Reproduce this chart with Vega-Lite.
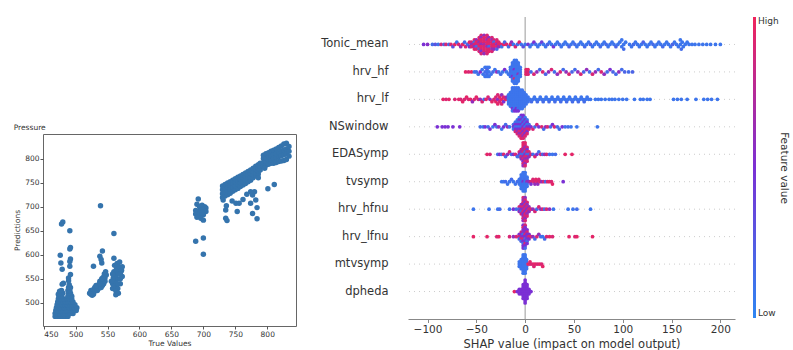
{
"$schema": "https://vega.github.io/schema/vega-lite/v6.json",
"padding": {"left": 13, "top": 16, "right": 14, "bottom": 0},
"config": {"font": "DejaVu Sans", "view": {"stroke": null}, "axis": {"grid": false}},
"datasets": {
"feat": [{"f":"Tonic_mean"},{"f":"hrv_hf"},{"f":"hrv_lf"},{"f":"NSwindow"},{"f":"EDASymp"},{"f":"tvsymp"},{"f":"hrv_hfnu"},{"f":"hrv_lfnu"},{"f":"mtvsymp"},{"f":"dpheda"}],
"scatter": [
{"t":468,"p":472},{"t":472,"p":472},{"t":476,"p":472},{"t":480,"p":472},{"t":484,"p":472},{"t":488,"p":472},
{"t":468,"p":478},{"t":472,"p":478},{"t":476,"p":478},{"t":480,"p":478},{"t":484,"p":478},{"t":488,"p":478},{"t":492,"p":478},{"t":496,"p":478},
{"t":469,"p":484},{"t":473,"p":484},{"t":477,"p":484},{"t":481,"p":484},{"t":485,"p":484},{"t":489,"p":484},{"t":493,"p":484},{"t":497,"p":484},{"t":501,"p":484},
{"t":470,"p":490},{"t":474,"p":490},{"t":478,"p":490},{"t":482,"p":490},{"t":486,"p":490},{"t":490,"p":490},{"t":494,"p":490},{"t":498,"p":490},{"t":502,"p":490},
{"t":471,"p":496},{"t":475,"p":496},{"t":479,"p":496},{"t":483,"p":496},{"t":487,"p":496},{"t":491,"p":496},{"t":495,"p":496},{"t":499,"p":496},
{"t":472,"p":502},{"t":476,"p":502},{"t":480,"p":502},{"t":484,"p":502},{"t":488,"p":502},{"t":492,"p":502},{"t":496,"p":502},
{"t":473,"p":508},{"t":477,"p":508},{"t":482,"p":508},{"t":487,"p":508},{"t":490,"p":508},{"t":494,"p":508},
{"t":474,"p":514},{"t":478,"p":514},{"t":488,"p":514},{"t":491,"p":514},{"t":494,"p":514},
{"t":476,"p":520},{"t":480,"p":520},{"t":489,"p":520},{"t":492,"p":520},
{"t":478,"p":526},{"t":488,"p":526},{"t":491,"p":526},{"t":489,"p":532},{"t":492,"p":532},{"t":490,"p":538},
{"t":480,"p":668},{"t":478,"p":664},{"t":491,"p":650},{"t":492,"p":615},{"t":491,"p":612},{"t":476,"p":599},{"t":492,"p":591},{"t":491,"p":586},{"t":477,"p":583},{"t":479,"p":570},{"t":491,"p":576},{"t":492,"p":559},{"t":481,"p":541},{"t":479,"p":539},{"t":489,"p":546},{"t":473,"p":518},{"t":475,"p":524},{"t":489,"p":552},
{"t":522,"p":520},{"t":524,"p":526},{"t":526,"p":522},{"t":528,"p":528},{"t":530,"p":524},{"t":530,"p":532},{"t":532,"p":528},{"t":534,"p":534},{"t":534,"p":526},{"t":536,"p":530},{"t":536,"p":538},{"t":538,"p":534},{"t":540,"p":540},{"t":540,"p":532},{"t":542,"p":544},{"t":542,"p":536},{"t":544,"p":548},{"t":544,"p":540},{"t":546,"p":552},{"t":546,"p":545},{"t":548,"p":558},{"t":547,"p":565},{"t":545,"p":560},{"t":543,"p":553},{"t":526,"p":516},{"t":528,"p":518},{"t":538,"p":545},{"t":541,"p":550},{"t":524,"p":518},{"t":532,"p":536},{"t":538,"p":540},
{"t":539,"p":702},{"t":542,"p":608},{"t":538,"p":597},{"t":541,"p":583},{"t":528,"p":576},{"t":540,"p":590},
{"t":558,"p":530},{"t":562,"p":535},{"t":566,"p":530},{"t":570,"p":540},{"t":558,"p":540},{"t":562,"p":545},{"t":566,"p":550},{"t":570,"p":550},{"t":573,"p":555},{"t":559,"p":552},{"t":563,"p":558},{"t":567,"p":562},{"t":571,"p":565},{"t":560,"p":565},{"t":564,"p":570},{"t":568,"p":575},{"t":572,"p":568},{"t":561,"p":578},{"t":565,"p":582},{"t":569,"p":585},{"t":573,"p":575},{"t":558,"p":560},{"t":563,"p":525},{"t":567,"p":520},{"t":556,"p":545},{"t":566,"p":540},{"t":570,"p":560},
{"t":560,"p":644},{"t":560,"p":593},{"t":563,"p":517},
{"t":692,"p":716},{"t":690,"p":705},{"t":694,"p":700},{"t":698,"p":703},{"t":702,"p":700},{"t":704,"p":697},{"t":688,"p":692},{"t":692,"p":690},{"t":696,"p":692},{"t":700,"p":694},{"t":704,"p":690},{"t":688,"p":685},{"t":694,"p":684},{"t":700,"p":683},{"t":690,"p":678},{"t":696,"p":676},{"t":700,"p":672},{"t":698,"p":688},{"t":688,"p":628},{"t":700,"p":635},{"t":700,"p":601},
{"t":730,"p":719},{"t":730,"p":727},{"t":730,"p":735},{"t":730,"p":743},
{"t":734,"p":722},{"t":734,"p":730},{"t":734,"p":738},{"t":734,"p":746},
{"t":738,"p":725},{"t":738,"p":733},{"t":738,"p":741},{"t":738,"p":749},
{"t":742,"p":728},{"t":742,"p":736},{"t":742,"p":744},{"t":742,"p":752},
{"t":746,"p":732},{"t":746,"p":740},{"t":746,"p":748},{"t":746,"p":755},
{"t":750,"p":735},{"t":750,"p":743},{"t":750,"p":751},{"t":750,"p":758},
{"t":754,"p":738},{"t":754,"p":746},{"t":754,"p":754},{"t":754,"p":761},
{"t":758,"p":742},{"t":758,"p":749},{"t":758,"p":757},{"t":758,"p":764},
{"t":762,"p":745},{"t":762,"p":752},{"t":762,"p":760},{"t":762,"p":767},
{"t":766,"p":748},{"t":766,"p":755},{"t":766,"p":763},{"t":766,"p":770},
{"t":770,"p":752},{"t":770,"p":759},{"t":770,"p":766},{"t":770,"p":773},
{"t":774,"p":755},{"t":774,"p":762},{"t":774,"p":769},{"t":774,"p":776},
{"t":778,"p":760},{"t":778,"p":766},{"t":778,"p":773},{"t":778,"p":780},
{"t":782,"p":764},{"t":782,"p":770},{"t":782,"p":777},{"t":782,"p":784},
{"t":786,"p":768},{"t":786,"p":774},{"t":786,"p":781},{"t":786,"p":787},
{"t":789,"p":776},{"t":789,"p":784},{"t":789,"p":790},
{"t":735,"p":693},{"t":735,"p":676},{"t":737,"p":671},{"t":753,"p":690},{"t":751,"p":707},{"t":756,"p":707},{"t":774,"p":707},{"t":784,"p":698},{"t":777,"p":686},{"t":784,"p":675},{"t":777,"p":724},{"t":780,"p":731},{"t":774,"p":731},{"t":782,"p":714},{"t":731,"p":714},{"t":736,"p":702},{"t":745,"p":712},{"t":762,"p":715},{"t":768,"p":726},{"t":786,"p":760},
{"t":794,"p":784},{"t":794,"p":792},{"t":794,"p":800},{"t":794,"p":807},
{"t":798,"p":786},{"t":798,"p":794},{"t":798,"p":802},{"t":798,"p":810},
{"t":802,"p":788},{"t":802,"p":796},{"t":802,"p":804},{"t":802,"p":812},
{"t":806,"p":790},{"t":806,"p":798},{"t":806,"p":806},{"t":806,"p":815},
{"t":810,"p":790},{"t":810,"p":800},{"t":810,"p":808},{"t":810,"p":817},
{"t":814,"p":792},{"t":814,"p":802},{"t":814,"p":810},{"t":814,"p":820},
{"t":818,"p":794},{"t":818,"p":804},{"t":818,"p":812},{"t":818,"p":823},
{"t":822,"p":795},{"t":822,"p":806},{"t":822,"p":815},{"t":822,"p":826},
{"t":826,"p":796},{"t":826,"p":808},{"t":826,"p":818},{"t":826,"p":830},
{"t":830,"p":798},{"t":830,"p":810},{"t":830,"p":820},{"t":830,"p":832},
{"t":834,"p":805},{"t":834,"p":815},{"t":834,"p":825},
{"t":801,"p":737},{"t":811,"p":746},{"t":796,"p":780}
],
"shap": [
{"f":"Tonic_mean","s":-104,"v":0.5,"o":0},{"f":"Tonic_mean","s":-100,"v":0.55,"o":0},{"f":"Tonic_mean","s":-95,"v":0.15,"o":0},{"f":"Tonic_mean","s":-92,"v":0.3,"o":0},{"f":"Tonic_mean","s":-89,"v":0.1,"o":0},{"f":"Tonic_mean","s":-86,"v":0.85,"o":0},{"f":"Tonic_mean","s":-83,"v":0.2,"o":0},{"f":"Tonic_mean","s":-81,"v":0.9,"o":0},{"f":"Tonic_mean","s":-78,"v":0.15,"o":0},{"f":"Tonic_mean","s":-76,"v":0.9,"o":0},{"f":"Tonic_mean","s":-74,"v":0.3,"o":1},{"f":"Tonic_mean","s":-72,"v":0.95,"o":0},{"f":"Tonic_mean","s":-70,"v":0.1,"o":-1},{"f":"Tonic_mean","s":-68,"v":0.9,"o":0},{"f":"Tonic_mean","s":-66,"v":0.6,"o":1},{"f":"Tonic_mean","s":-64,"v":0.95,"o":0},{"f":"Tonic_mean","s":-62,"v":0.15,"o":-1},{"f":"Tonic_mean","s":-61,"v":0.9,"o":1},{"f":"Tonic_mean","s":-59,"v":0.2,"o":0},{"f":"Tonic_mean","s":-57,"v":0.95,"o":-1},{"f":"Tonic_mean","s":-57,"v":0.5,"o":1},
{"f":"Tonic_mean","s":-55,"v":0.9,"o":-1},{"f":"Tonic_mean","s":-55,"v":0.6,"o":0},{"f":"Tonic_mean","s":-55,"v":0.9,"o":1},
{"f":"Tonic_mean","s":-52,"v":0.95,"o":-2},{"f":"Tonic_mean","s":-52,"v":0.1,"o":-1},{"f":"Tonic_mean","s":-52,"v":0.9,"o":0},{"f":"Tonic_mean","s":-52,"v":0.6,"o":1},{"f":"Tonic_mean","s":-52,"v":0.95,"o":2},
{"f":"Tonic_mean","s":-50,"v":0.6,"o":-2},{"f":"Tonic_mean","s":-50,"v":0.95,"o":-1},{"f":"Tonic_mean","s":-50,"v":0.9,"o":0},{"f":"Tonic_mean","s":-50,"v":0.15,"o":1},{"f":"Tonic_mean","s":-50,"v":0.9,"o":2},
{"f":"Tonic_mean","s":-47,"v":0.9,"o":-3},{"f":"Tonic_mean","s":-47,"v":0.95,"o":-2},{"f":"Tonic_mean","s":-47,"v":0.6,"o":-1},{"f":"Tonic_mean","s":-47,"v":0.9,"o":0},{"f":"Tonic_mean","s":-47,"v":0.95,"o":1},{"f":"Tonic_mean","s":-47,"v":0.2,"o":2},{"f":"Tonic_mean","s":-47,"v":0.9,"o":3},
{"f":"Tonic_mean","s":-45,"v":0.9,"o":-4},{"f":"Tonic_mean","s":-45,"v":0.6,"o":-3},{"f":"Tonic_mean","s":-45,"v":0.95,"o":-2},{"f":"Tonic_mean","s":-45,"v":0.9,"o":-1},{"f":"Tonic_mean","s":-45,"v":0.6,"o":0},{"f":"Tonic_mean","s":-45,"v":0.95,"o":1},{"f":"Tonic_mean","s":-45,"v":0.9,"o":2},{"f":"Tonic_mean","s":-45,"v":0.5,"o":3},{"f":"Tonic_mean","s":-45,"v":0.9,"o":4},
{"f":"Tonic_mean","s":-42,"v":0.6,"o":-4},{"f":"Tonic_mean","s":-42,"v":0.95,"o":-3},{"f":"Tonic_mean","s":-42,"v":0.9,"o":-2},{"f":"Tonic_mean","s":-42,"v":0.95,"o":-1},{"f":"Tonic_mean","s":-42,"v":0.7,"o":0},{"f":"Tonic_mean","s":-42,"v":0.9,"o":1},{"f":"Tonic_mean","s":-42,"v":0.95,"o":2},{"f":"Tonic_mean","s":-42,"v":0.9,"o":3},{"f":"Tonic_mean","s":-42,"v":0.6,"o":4},
{"f":"Tonic_mean","s":-39,"v":0.9,"o":-4},{"f":"Tonic_mean","s":-39,"v":0.9,"o":-3},{"f":"Tonic_mean","s":-39,"v":0.6,"o":-2},{"f":"Tonic_mean","s":-39,"v":0.95,"o":-1},{"f":"Tonic_mean","s":-39,"v":0.9,"o":0},{"f":"Tonic_mean","s":-39,"v":0.6,"o":1},{"f":"Tonic_mean","s":-39,"v":0.95,"o":2},{"f":"Tonic_mean","s":-39,"v":0.9,"o":3},{"f":"Tonic_mean","s":-39,"v":0.9,"o":4},
{"f":"Tonic_mean","s":-37,"v":0.6,"o":-3},{"f":"Tonic_mean","s":-37,"v":0.95,"o":-2},{"f":"Tonic_mean","s":-37,"v":0.9,"o":-1},{"f":"Tonic_mean","s":-37,"v":0.95,"o":0},{"f":"Tonic_mean","s":-37,"v":0.2,"o":1},{"f":"Tonic_mean","s":-37,"v":0.9,"o":2},{"f":"Tonic_mean","s":-37,"v":0.95,"o":3},
{"f":"Tonic_mean","s":-34,"v":0.9,"o":-3},{"f":"Tonic_mean","s":-34,"v":0.6,"o":-2},{"f":"Tonic_mean","s":-34,"v":0.9,"o":-1},{"f":"Tonic_mean","s":-34,"v":0.95,"o":0},{"f":"Tonic_mean","s":-34,"v":0.9,"o":1},{"f":"Tonic_mean","s":-34,"v":0.6,"o":2},{"f":"Tonic_mean","s":-34,"v":0.9,"o":3},
{"f":"Tonic_mean","s":-32,"v":0.9,"o":-2},{"f":"Tonic_mean","s":-32,"v":0.15,"o":-1},{"f":"Tonic_mean","s":-32,"v":0.9,"o":0},{"f":"Tonic_mean","s":-32,"v":0.95,"o":1},{"f":"Tonic_mean","s":-32,"v":0.6,"o":2},
{"f":"Tonic_mean","s":-29,"v":0.9,"o":-2},{"f":"Tonic_mean","s":-29,"v":0.95,"o":-1},{"f":"Tonic_mean","s":-29,"v":0.6,"o":0},{"f":"Tonic_mean","s":-29,"v":0.9,"o":1},{"f":"Tonic_mean","s":-29,"v":0.2,"o":2},
{"f":"Tonic_mean","s":-27,"v":0.9,"o":-1},{"f":"Tonic_mean","s":-27,"v":0.95,"o":0},{"f":"Tonic_mean","s":-27,"v":0.6,"o":1},
{"f":"Tonic_mean","s":-25,"v":0.9,"o":0},{"f":"Tonic_mean","s":-24,"v":0.1,"o":1},{"f":"Tonic_mean","s":-22,"v":0.95,"o":0},{"f":"Tonic_mean","s":-21,"v":0.2,"o":-1},{"f":"Tonic_mean","s":-19,"v":0.9,"o":0},{"f":"Tonic_mean","s":-17,"v":0.15,"o":1},{"f":"Tonic_mean","s":-15,"v":0.9,"o":0},{"f":"Tonic_mean","s":-14,"v":0.6,"o":-1},{"f":"Tonic_mean","s":-12,"v":0.1,"o":0},{"f":"Tonic_mean","s":-10,"v":0.9,"o":1},{"f":"Tonic_mean","s":-8,"v":0.15,"o":0},{"f":"Tonic_mean","s":-6,"v":0.95,"o":-1},{"f":"Tonic_mean","s":-4,"v":0.1,"o":0},{"f":"Tonic_mean","s":-2,"v":0.3,"o":1},{"f":"Tonic_mean","s":0,"v":0.1,"o":0},
{"f":"Tonic_mean","s":3,"v":0.45,"o":0},{"f":"Tonic_mean","s":5,"v":0.1,"o":1},{"f":"Tonic_mean","s":7,"v":0.1,"o":0},{"f":"Tonic_mean","s":9,"v":0.5,"o":-1},{"f":"Tonic_mean","s":11,"v":0.15,"o":0},{"f":"Tonic_mean","s":13,"v":0.1,"o":1},{"f":"Tonic_mean","s":15,"v":0.1,"o":0},{"f":"Tonic_mean","s":17,"v":0.4,"o":-1},{"f":"Tonic_mean","s":19,"v":0.1,"o":0},{"f":"Tonic_mean","s":21,"v":0.1,"o":1},{"f":"Tonic_mean","s":23,"v":0.2,"o":0},{"f":"Tonic_mean","s":25,"v":0.1,"o":-1},{"f":"Tonic_mean","s":27,"v":0.1,"o":0},{"f":"Tonic_mean","s":29,"v":0.45,"o":1},{"f":"Tonic_mean","s":31,"v":0.1,"o":0},{"f":"Tonic_mean","s":33,"v":0.1,"o":-1},{"f":"Tonic_mean","s":35,"v":0.15,"o":0},{"f":"Tonic_mean","s":37,"v":0.1,"o":1},{"f":"Tonic_mean","s":39,"v":0.1,"o":0},{"f":"Tonic_mean","s":41,"v":0.1,"o":-1},{"f":"Tonic_mean","s":43,"v":0.1,"o":0},{"f":"Tonic_mean","s":45,"v":0.2,"o":1},{"f":"Tonic_mean","s":47,"v":0.1,"o":0},{"f":"Tonic_mean","s":49,"v":0.1,"o":-1},{"f":"Tonic_mean","s":51,"v":0.15,"o":0},{"f":"Tonic_mean","s":53,"v":0.1,"o":1},{"f":"Tonic_mean","s":55,"v":0.1,"o":0},{"f":"Tonic_mean","s":57,"v":0.1,"o":-1},{"f":"Tonic_mean","s":59,"v":0.1,"o":0},{"f":"Tonic_mean","s":61,"v":0.15,"o":1},{"f":"Tonic_mean","s":63,"v":0.1,"o":0},{"f":"Tonic_mean","s":65,"v":0.1,"o":-1},{"f":"Tonic_mean","s":67,"v":0.2,"o":0},{"f":"Tonic_mean","s":69,"v":0.1,"o":1},{"f":"Tonic_mean","s":71,"v":0.1,"o":0},{"f":"Tonic_mean","s":73,"v":0.1,"o":-1},{"f":"Tonic_mean","s":75,"v":0.1,"o":0},{"f":"Tonic_mean","s":77,"v":0.15,"o":1},{"f":"Tonic_mean","s":79,"v":0.1,"o":0},{"f":"Tonic_mean","s":81,"v":0.1,"o":-1},{"f":"Tonic_mean","s":83,"v":0.15,"o":0},{"f":"Tonic_mean","s":85,"v":0.1,"o":1},{"f":"Tonic_mean","s":87,"v":0.1,"o":0},{"f":"Tonic_mean","s":89,"v":0.1,"o":-1},{"f":"Tonic_mean","s":91,"v":0.1,"o":0},{"f":"Tonic_mean","s":93,"v":0.2,"o":1},{"f":"Tonic_mean","s":95,"v":0.1,"o":0},{"f":"Tonic_mean","s":97,"v":0.1,"o":-1},
{"f":"Tonic_mean","s":99,"v":0.1,"o":1},{"f":"Tonic_mean","s":99,"v":0.1,"o":-2},{"f":"Tonic_mean","s":101,"v":0.15,"o":2},{"f":"Tonic_mean","s":101,"v":0.1,"o":0},{"f":"Tonic_mean","s":103,"v":0.1,"o":-1},
{"f":"Tonic_mean","s":107,"v":0.1,"o":0},{"f":"Tonic_mean","s":109,"v":0.1,"o":1},{"f":"Tonic_mean","s":111,"v":0.15,"o":0},{"f":"Tonic_mean","s":113,"v":0.1,"o":-1},{"f":"Tonic_mean","s":115,"v":0.1,"o":0},{"f":"Tonic_mean","s":117,"v":0.1,"o":1},{"f":"Tonic_mean","s":119,"v":0.1,"o":0},{"f":"Tonic_mean","s":121,"v":0.2,"o":-1},{"f":"Tonic_mean","s":123,"v":0.1,"o":0},{"f":"Tonic_mean","s":125,"v":0.1,"o":1},{"f":"Tonic_mean","s":127,"v":0.1,"o":0},{"f":"Tonic_mean","s":129,"v":0.1,"o":-1},{"f":"Tonic_mean","s":131,"v":0.15,"o":0},{"f":"Tonic_mean","s":133,"v":0.1,"o":1},{"f":"Tonic_mean","s":135,"v":0.1,"o":0},{"f":"Tonic_mean","s":137,"v":0.1,"o":-1},{"f":"Tonic_mean","s":139,"v":0.1,"o":0},{"f":"Tonic_mean","s":141,"v":0.15,"o":1},{"f":"Tonic_mean","s":143,"v":0.1,"o":0},{"f":"Tonic_mean","s":145,"v":0.1,"o":-1},{"f":"Tonic_mean","s":147,"v":0.1,"o":0},{"f":"Tonic_mean","s":149,"v":0.1,"o":1},{"f":"Tonic_mean","s":151,"v":0.2,"o":0},{"f":"Tonic_mean","s":153,"v":0.1,"o":-1},{"f":"Tonic_mean","s":155,"v":0.1,"o":0},{"f":"Tonic_mean","s":157,"v":0.1,"o":1},
{"f":"Tonic_mean","s":159,"v":0.1,"o":-2},{"f":"Tonic_mean","s":159,"v":0.1,"o":0},{"f":"Tonic_mean","s":160,"v":0.15,"o":2},{"f":"Tonic_mean","s":161,"v":0.1,"o":-1},{"f":"Tonic_mean","s":162,"v":0.1,"o":1},{"f":"Tonic_mean","s":164,"v":0.1,"o":0},{"f":"Tonic_mean","s":166,"v":0.1,"o":-1},{"f":"Tonic_mean","s":168,"v":0.1,"o":0},
{"f":"Tonic_mean","s":171,"v":0.1,"o":0},{"f":"Tonic_mean","s":174,"v":0.1,"o":0},{"f":"Tonic_mean","s":178,"v":0.1,"o":0},{"f":"Tonic_mean","s":182,"v":0.1,"o":0},{"f":"Tonic_mean","s":186,"v":0.1,"o":0},{"f":"Tonic_mean","s":190,"v":0.1,"o":0},{"f":"Tonic_mean","s":195,"v":0.1,"o":0},{"f":"Tonic_mean","s":200,"v":0.1,"o":0},

{"f":"hrv_hf","s":-61,"v":0.95,"o":0},{"f":"hrv_hf","s":-58,"v":0.9,"o":0},{"f":"hrv_hf","s":-55,"v":0.95,"o":0},
{"f":"hrv_hf","s":-52,"v":0.1,"o":0},{"f":"hrv_hf","s":-50,"v":0.15,"o":0},{"f":"hrv_hf","s":-48,"v":0.1,"o":1},{"f":"hrv_hf","s":-46,"v":0.5,"o":0},{"f":"hrv_hf","s":-44,"v":0.1,"o":-1},{"f":"hrv_hf","s":-43,"v":0.1,"o":1},
{"f":"hrv_hf","s":-41,"v":0.1,"o":-2},{"f":"hrv_hf","s":-41,"v":0.15,"o":0},{"f":"hrv_hf","s":-41,"v":0.1,"o":2},{"f":"hrv_hf","s":-39,"v":0.1,"o":-2},{"f":"hrv_hf","s":-39,"v":0.2,"o":-1},{"f":"hrv_hf","s":-39,"v":0.1,"o":0},{"f":"hrv_hf","s":-39,"v":0.15,"o":1},{"f":"hrv_hf","s":-39,"v":0.1,"o":2},{"f":"hrv_hf","s":-37,"v":0.1,"o":-2},{"f":"hrv_hf","s":-37,"v":0.1,"o":0},{"f":"hrv_hf","s":-37,"v":0.1,"o":2},
{"f":"hrv_hf","s":-35,"v":0.1,"o":1},{"f":"hrv_hf","s":-33,"v":0.15,"o":0},{"f":"hrv_hf","s":-31,"v":0.1,"o":-1},{"f":"hrv_hf","s":-29,"v":0.6,"o":0},{"f":"hrv_hf","s":-27,"v":0.1,"o":0},{"f":"hrv_hf","s":-25,"v":0.15,"o":1},{"f":"hrv_hf","s":-23,"v":0.1,"o":0},{"f":"hrv_hf","s":-21,"v":0.5,"o":-1},{"f":"hrv_hf","s":-19,"v":0.1,"o":0},{"f":"hrv_hf","s":-17,"v":0.1,"o":1},
{"f":"hrv_hf","s":-15,"v":0.1,"o":-2},{"f":"hrv_hf","s":-15,"v":0.1,"o":-1},{"f":"hrv_hf","s":-15,"v":0.15,"o":0},{"f":"hrv_hf","s":-15,"v":0.1,"o":1},{"f":"hrv_hf","s":-15,"v":0.1,"o":2},
{"f":"hrv_hf","s":-13,"v":0.1,"o":-4},{"f":"hrv_hf","s":-13,"v":0.1,"o":-3},{"f":"hrv_hf","s":-13,"v":0.1,"o":-2},{"f":"hrv_hf","s":-13,"v":0.1,"o":-1},{"f":"hrv_hf","s":-13,"v":0.1,"o":0},{"f":"hrv_hf","s":-13,"v":0.1,"o":1},{"f":"hrv_hf","s":-13,"v":0.5,"o":2},{"f":"hrv_hf","s":-13,"v":0.1,"o":3},{"f":"hrv_hf","s":-13,"v":0.1,"o":4},
{"f":"hrv_hf","s":-11,"v":0.1,"o":-5},{"f":"hrv_hf","s":-11,"v":0.1,"o":-4},{"f":"hrv_hf","s":-11,"v":0.1,"o":-3},{"f":"hrv_hf","s":-11,"v":0.1,"o":-2},{"f":"hrv_hf","s":-11,"v":0.5,"o":-1},{"f":"hrv_hf","s":-11,"v":0.1,"o":0},{"f":"hrv_hf","s":-11,"v":0.1,"o":1},{"f":"hrv_hf","s":-11,"v":0.1,"o":2},{"f":"hrv_hf","s":-11,"v":0.9,"o":3},{"f":"hrv_hf","s":-11,"v":0.1,"o":4},{"f":"hrv_hf","s":-11,"v":0.1,"o":5},
{"f":"hrv_hf","s":-9,"v":0.1,"o":-5},{"f":"hrv_hf","s":-9,"v":0.1,"o":-4},{"f":"hrv_hf","s":-9,"v":0.1,"o":-3},{"f":"hrv_hf","s":-9,"v":0.1,"o":-2},{"f":"hrv_hf","s":-9,"v":0.1,"o":-1},{"f":"hrv_hf","s":-9,"v":0.1,"o":0},{"f":"hrv_hf","s":-9,"v":0.1,"o":1},{"f":"hrv_hf","s":-9,"v":0.1,"o":2},{"f":"hrv_hf","s":-9,"v":0.1,"o":3},{"f":"hrv_hf","s":-9,"v":0.1,"o":4},{"f":"hrv_hf","s":-9,"v":0.1,"o":5},
{"f":"hrv_hf","s":-7,"v":0.1,"o":-4},{"f":"hrv_hf","s":-7,"v":0.1,"o":-3},{"f":"hrv_hf","s":-7,"v":0.1,"o":-2},{"f":"hrv_hf","s":-7,"v":0.1,"o":-1},{"f":"hrv_hf","s":-7,"v":0.1,"o":0},{"f":"hrv_hf","s":-7,"v":0.6,"o":1},{"f":"hrv_hf","s":-7,"v":0.1,"o":2},{"f":"hrv_hf","s":-7,"v":0.1,"o":3},{"f":"hrv_hf","s":-7,"v":0.1,"o":4},
{"f":"hrv_hf","s":-5,"v":0.1,"o":-2},{"f":"hrv_hf","s":-5,"v":0.1,"o":-1},{"f":"hrv_hf","s":-5,"v":0.1,"o":0},{"f":"hrv_hf","s":-5,"v":0.1,"o":1},{"f":"hrv_hf","s":-5,"v":0.1,"o":2},
{"f":"hrv_hf","s":1,"v":0.95,"o":-1},{"f":"hrv_hf","s":1,"v":0.9,"o":0},{"f":"hrv_hf","s":1,"v":0.95,"o":1},{"f":"hrv_hf","s":3,"v":0.9,"o":0},{"f":"hrv_hf","s":3,"v":0.95,"o":-1},{"f":"hrv_hf","s":3,"v":0.9,"o":1},
{"f":"hrv_hf","s":6,"v":0.15,"o":0},{"f":"hrv_hf","s":9,"v":0.9,"o":1},{"f":"hrv_hf","s":12,"v":0.6,"o":0},{"f":"hrv_hf","s":15,"v":0.15,"o":-1},{"f":"hrv_hf","s":18,"v":0.9,"o":0},{"f":"hrv_hf","s":21,"v":0.2,"o":1},{"f":"hrv_hf","s":24,"v":0.6,"o":0},{"f":"hrv_hf","s":27,"v":0.9,"o":-1},{"f":"hrv_hf","s":30,"v":0.15,"o":0},{"f":"hrv_hf","s":33,"v":0.6,"o":1},{"f":"hrv_hf","s":36,"v":0.9,"o":0},{"f":"hrv_hf","s":39,"v":0.15,"o":-1},{"f":"hrv_hf","s":42,"v":0.6,"o":0},{"f":"hrv_hf","s":45,"v":0.9,"o":1},{"f":"hrv_hf","s":48,"v":0.2,"o":0},{"f":"hrv_hf","s":51,"v":0.15,"o":-1},{"f":"hrv_hf","s":54,"v":0.6,"o":0},{"f":"hrv_hf","s":57,"v":0.9,"o":1},{"f":"hrv_hf","s":60,"v":0.2,"o":0},{"f":"hrv_hf","s":63,"v":0.6,"o":-1},{"f":"hrv_hf","s":66,"v":0.15,"o":0},{"f":"hrv_hf","s":69,"v":0.9,"o":1},{"f":"hrv_hf","s":72,"v":0.6,"o":0},{"f":"hrv_hf","s":75,"v":0.15,"o":-1},{"f":"hrv_hf","s":78,"v":0.9,"o":0},{"f":"hrv_hf","s":81,"v":0.6,"o":1},{"f":"hrv_hf","s":84,"v":0.15,"o":0},{"f":"hrv_hf","s":87,"v":0.5,"o":-1},{"f":"hrv_hf","s":90,"v":0.2,"o":0},{"f":"hrv_hf","s":93,"v":0.15,"o":1},{"f":"hrv_hf","s":96,"v":0.6,"o":0},{"f":"hrv_hf","s":99,"v":0.15,"o":-1},{"f":"hrv_hf","s":102,"v":0.2,"o":0},{"f":"hrv_hf","s":106,"v":0.15,"o":0},{"f":"hrv_hf","s":110,"v":0.2,"o":0},

{"f":"hrv_lf","s":-84,"v":0.95,"o":0},{"f":"hrv_lf","s":-81,"v":0.9,"o":0},{"f":"hrv_lf","s":-78,"v":0.95,"o":0},{"f":"hrv_lf","s":-72,"v":0.9,"o":0},{"f":"hrv_lf","s":-68,"v":0.95,"o":0},{"f":"hrv_lf","s":-66,"v":0.9,"o":0},{"f":"hrv_lf","s":-64,"v":0.95,"o":1},{"f":"hrv_lf","s":-62,"v":0.9,"o":0},{"f":"hrv_lf","s":-60,"v":0.95,"o":-1},{"f":"hrv_lf","s":-58,"v":0.9,"o":0},{"f":"hrv_lf","s":-56,"v":0.95,"o":0},{"f":"hrv_lf","s":-54,"v":0.6,"o":1},{"f":"hrv_lf","s":-52,"v":0.9,"o":0},{"f":"hrv_lf","s":-50,"v":0.95,"o":-1},{"f":"hrv_lf","s":-48,"v":0.9,"o":0},{"f":"hrv_lf","s":-46,"v":0.6,"o":0},{"f":"hrv_lf","s":-44,"v":0.9,"o":1},{"f":"hrv_lf","s":-42,"v":0.15,"o":0},{"f":"hrv_lf","s":-40,"v":0.95,"o":0},{"f":"hrv_lf","s":-38,"v":0.9,"o":-1},{"f":"hrv_lf","s":-36,"v":0.6,"o":0},{"f":"hrv_lf","s":-34,"v":0.95,"o":1},{"f":"hrv_lf","s":-32,"v":0.9,"o":0},
{"f":"hrv_lf","s":-30,"v":0.9,"o":-1},{"f":"hrv_lf","s":-30,"v":0.95,"o":1},{"f":"hrv_lf","s":-28,"v":0.9,"o":-2},{"f":"hrv_lf","s":-28,"v":0.6,"o":0},{"f":"hrv_lf","s":-28,"v":0.95,"o":2},{"f":"hrv_lf","s":-26,"v":0.95,"o":-1},{"f":"hrv_lf","s":-26,"v":0.9,"o":1},{"f":"hrv_lf","s":-24,"v":0.6,"o":-2},{"f":"hrv_lf","s":-24,"v":0.95,"o":0},{"f":"hrv_lf","s":-24,"v":0.9,"o":2},{"f":"hrv_lf","s":-22,"v":0.9,"o":-1},{"f":"hrv_lf","s":-22,"v":0.5,"o":1},{"f":"hrv_lf","s":-20,"v":0.95,"o":0},{"f":"hrv_lf","s":-19,"v":0.6,"o":-1},
{"f":"hrv_lf","s":-17,"v":0.1,"o":-2},{"f":"hrv_lf","s":-17,"v":0.1,"o":-1},{"f":"hrv_lf","s":-17,"v":0.1,"o":0},{"f":"hrv_lf","s":-17,"v":0.1,"o":1},{"f":"hrv_lf","s":-17,"v":0.1,"o":2},
{"f":"hrv_lf","s":-15,"v":0.1,"o":-3},{"f":"hrv_lf","s":-15,"v":0.1,"o":-2},{"f":"hrv_lf","s":-15,"v":0.1,"o":-1},{"f":"hrv_lf","s":-15,"v":0.1,"o":0},{"f":"hrv_lf","s":-15,"v":0.1,"o":1},{"f":"hrv_lf","s":-15,"v":0.1,"o":2},{"f":"hrv_lf","s":-15,"v":0.1,"o":3},
{"f":"hrv_lf","s":-13,"v":0.1,"o":-5},{"f":"hrv_lf","s":-13,"v":0.1,"o":-4},{"f":"hrv_lf","s":-13,"v":0.1,"o":-3},{"f":"hrv_lf","s":-13,"v":0.1,"o":-2},{"f":"hrv_lf","s":-13,"v":0.1,"o":-1},{"f":"hrv_lf","s":-13,"v":0.1,"o":0},{"f":"hrv_lf","s":-13,"v":0.1,"o":1},{"f":"hrv_lf","s":-13,"v":0.1,"o":2},{"f":"hrv_lf","s":-13,"v":0.1,"o":3},{"f":"hrv_lf","s":-13,"v":0.5,"o":4},{"f":"hrv_lf","s":-13,"v":0.1,"o":5},
{"f":"hrv_lf","s":-11,"v":0.1,"o":-5},{"f":"hrv_lf","s":-11,"v":0.1,"o":-4},{"f":"hrv_lf","s":-11,"v":0.1,"o":-3},{"f":"hrv_lf","s":-11,"v":0.1,"o":-2},{"f":"hrv_lf","s":-11,"v":0.1,"o":-1},{"f":"hrv_lf","s":-11,"v":0.1,"o":0},{"f":"hrv_lf","s":-11,"v":0.1,"o":1},{"f":"hrv_lf","s":-11,"v":0.1,"o":2},{"f":"hrv_lf","s":-11,"v":0.1,"o":3},{"f":"hrv_lf","s":-11,"v":0.1,"o":4},{"f":"hrv_lf","s":-11,"v":0.5,"o":5},
{"f":"hrv_lf","s":-9,"v":0.1,"o":-5},{"f":"hrv_lf","s":-9,"v":0.1,"o":-4},{"f":"hrv_lf","s":-9,"v":0.1,"o":-3},{"f":"hrv_lf","s":-9,"v":0.1,"o":-2},{"f":"hrv_lf","s":-9,"v":0.1,"o":-1},{"f":"hrv_lf","s":-9,"v":0.1,"o":0},{"f":"hrv_lf","s":-9,"v":0.1,"o":1},{"f":"hrv_lf","s":-9,"v":0.1,"o":2},{"f":"hrv_lf","s":-9,"v":0.1,"o":3},{"f":"hrv_lf","s":-9,"v":0.5,"o":4},{"f":"hrv_lf","s":-9,"v":0.5,"o":5},
{"f":"hrv_lf","s":-7,"v":0.1,"o":-5},{"f":"hrv_lf","s":-7,"v":0.1,"o":-4},{"f":"hrv_lf","s":-7,"v":0.1,"o":-3},{"f":"hrv_lf","s":-7,"v":0.1,"o":-2},{"f":"hrv_lf","s":-7,"v":0.1,"o":-1},{"f":"hrv_lf","s":-7,"v":0.1,"o":0},{"f":"hrv_lf","s":-7,"v":0.1,"o":1},{"f":"hrv_lf","s":-7,"v":0.1,"o":2},{"f":"hrv_lf","s":-7,"v":0.1,"o":3},{"f":"hrv_lf","s":-7,"v":0.1,"o":4},{"f":"hrv_lf","s":-7,"v":0.5,"o":5},
{"f":"hrv_lf","s":-5,"v":0.1,"o":-4},{"f":"hrv_lf","s":-5,"v":0.1,"o":-3},{"f":"hrv_lf","s":-5,"v":0.1,"o":-2},{"f":"hrv_lf","s":-5,"v":0.1,"o":-1},{"f":"hrv_lf","s":-5,"v":0.1,"o":0},{"f":"hrv_lf","s":-5,"v":0.1,"o":1},{"f":"hrv_lf","s":-5,"v":0.1,"o":2},{"f":"hrv_lf","s":-5,"v":0.1,"o":3},{"f":"hrv_lf","s":-5,"v":0.1,"o":4},
{"f":"hrv_lf","s":-3,"v":0.1,"o":-4},{"f":"hrv_lf","s":-3,"v":0.1,"o":-3},{"f":"hrv_lf","s":-3,"v":0.1,"o":-2},{"f":"hrv_lf","s":-3,"v":0.1,"o":-1},{"f":"hrv_lf","s":-3,"v":0.1,"o":0},{"f":"hrv_lf","s":-3,"v":0.1,"o":1},{"f":"hrv_lf","s":-3,"v":0.1,"o":2},{"f":"hrv_lf","s":-3,"v":0.1,"o":3},{"f":"hrv_lf","s":-3,"v":0.1,"o":4},
{"f":"hrv_lf","s":-1,"v":0.1,"o":-3},{"f":"hrv_lf","s":-1,"v":0.1,"o":-2},{"f":"hrv_lf","s":-1,"v":0.1,"o":-1},{"f":"hrv_lf","s":-1,"v":0.1,"o":0},{"f":"hrv_lf","s":-1,"v":0.1,"o":1},{"f":"hrv_lf","s":-1,"v":0.1,"o":2},{"f":"hrv_lf","s":-1,"v":0.1,"o":3},
{"f":"hrv_lf","s":1,"v":0.1,"o":-2},{"f":"hrv_lf","s":1,"v":0.1,"o":-1},{"f":"hrv_lf","s":1,"v":0.1,"o":0},{"f":"hrv_lf","s":1,"v":0.1,"o":1},{"f":"hrv_lf","s":1,"v":0.1,"o":2},
{"f":"hrv_lf","s":3,"v":0.1,"o":-1},{"f":"hrv_lf","s":3,"v":0.1,"o":0},{"f":"hrv_lf","s":3,"v":0.1,"o":1},
{"f":"hrv_lf","s":5,"v":0.1,"o":0},{"f":"hrv_lf","s":6.5,"v":0.15,"o":1},{"f":"hrv_lf","s":8,"v":0.1,"o":0},{"f":"hrv_lf","s":9.5,"v":0.1,"o":-1},{"f":"hrv_lf","s":11,"v":0.1,"o":0},{"f":"hrv_lf","s":12.5,"v":0.15,"o":1},{"f":"hrv_lf","s":14,"v":0.1,"o":0},{"f":"hrv_lf","s":15.5,"v":0.1,"o":-1},{"f":"hrv_lf","s":17,"v":0.1,"o":0},{"f":"hrv_lf","s":18.5,"v":0.15,"o":1},{"f":"hrv_lf","s":20,"v":0.1,"o":0},{"f":"hrv_lf","s":21.5,"v":0.1,"o":-1},{"f":"hrv_lf","s":23,"v":0.1,"o":0},{"f":"hrv_lf","s":24.5,"v":0.15,"o":1},{"f":"hrv_lf","s":26,"v":0.1,"o":0},{"f":"hrv_lf","s":27.5,"v":0.1,"o":-1},{"f":"hrv_lf","s":29,"v":0.1,"o":0},{"f":"hrv_lf","s":30.5,"v":0.15,"o":1},{"f":"hrv_lf","s":32,"v":0.1,"o":0},{"f":"hrv_lf","s":33.5,"v":0.1,"o":-1},{"f":"hrv_lf","s":35,"v":0.1,"o":0},{"f":"hrv_lf","s":36.5,"v":0.15,"o":1},{"f":"hrv_lf","s":38,"v":0.1,"o":0},{"f":"hrv_lf","s":39.5,"v":0.1,"o":-1},{"f":"hrv_lf","s":41,"v":0.1,"o":0},{"f":"hrv_lf","s":42.5,"v":0.15,"o":1},{"f":"hrv_lf","s":44,"v":0.1,"o":0},{"f":"hrv_lf","s":45.5,"v":0.1,"o":-1},{"f":"hrv_lf","s":47,"v":0.1,"o":0},{"f":"hrv_lf","s":48.5,"v":0.15,"o":1},{"f":"hrv_lf","s":50,"v":0.1,"o":0},{"f":"hrv_lf","s":51.5,"v":0.1,"o":-1},{"f":"hrv_lf","s":53,"v":0.1,"o":0},{"f":"hrv_lf","s":54.5,"v":0.15,"o":1},{"f":"hrv_lf","s":56,"v":0.1,"o":0},{"f":"hrv_lf","s":57.5,"v":0.1,"o":-1},{"f":"hrv_lf","s":59,"v":0.1,"o":0},{"f":"hrv_lf","s":60.5,"v":0.15,"o":1},{"f":"hrv_lf","s":62,"v":0.1,"o":0},{"f":"hrv_lf","s":63.5,"v":0.1,"o":-1},{"f":"hrv_lf","s":65,"v":0.1,"o":0},{"f":"hrv_lf","s":67,"v":0.1,"o":0},
{"f":"hrv_lf","s":72,"v":0.1,"o":0},{"f":"hrv_lf","s":75,"v":0.1,"o":0},{"f":"hrv_lf","s":78,"v":0.1,"o":0},{"f":"hrv_lf","s":82,"v":0.1,"o":0},{"f":"hrv_lf","s":86,"v":0.1,"o":0},{"f":"hrv_lf","s":89,"v":0.1,"o":0},{"f":"hrv_lf","s":92,"v":0.1,"o":0},{"f":"hrv_lf","s":96,"v":0.1,"o":0},{"f":"hrv_lf","s":100,"v":0.1,"o":0},{"f":"hrv_lf","s":104,"v":0.1,"o":0},{"f":"hrv_lf","s":112,"v":0.1,"o":0},{"f":"hrv_lf","s":118,"v":0.1,"o":0},{"f":"hrv_lf","s":121,"v":0.1,"o":0},{"f":"hrv_lf","s":125,"v":0.1,"o":0},{"f":"hrv_lf","s":128,"v":0.1,"o":0},{"f":"hrv_lf","s":152,"v":0.1,"o":0},{"f":"hrv_lf","s":156,"v":0.1,"o":0},{"f":"hrv_lf","s":160,"v":0.1,"o":0},{"f":"hrv_lf","s":166,"v":0.1,"o":0},{"f":"hrv_lf","s":175,"v":0.1,"o":0},{"f":"hrv_lf","s":183,"v":0.1,"o":0},{"f":"hrv_lf","s":187,"v":0.1,"o":0},{"f":"hrv_lf","s":191,"v":0.1,"o":0},{"f":"hrv_lf","s":197,"v":0.1,"o":0},

{"f":"NSwindow","s":-90,"v":0.5,"o":0},{"f":"NSwindow","s":-85,"v":0.5,"o":0},{"f":"NSwindow","s":-82,"v":0.5,"o":0},{"f":"NSwindow","s":-79,"v":0.5,"o":0},{"f":"NSwindow","s":-74,"v":0.5,"o":0},{"f":"NSwindow","s":-67,"v":0.5,"o":0},
{"f":"NSwindow","s":-46,"v":0.15,"o":0},{"f":"NSwindow","s":-43,"v":0.1,"o":0},{"f":"NSwindow","s":-41,"v":0.5,"o":0},{"f":"NSwindow","s":-38,"v":0.15,"o":0},{"f":"NSwindow","s":-36,"v":0.5,"o":1},{"f":"NSwindow","s":-33,"v":0.1,"o":0},{"f":"NSwindow","s":-31,"v":0.5,"o":-1},{"f":"NSwindow","s":-29,"v":0.15,"o":0},{"f":"NSwindow","s":-27,"v":0.6,"o":0},{"f":"NSwindow","s":-24,"v":0.1,"o":1},{"f":"NSwindow","s":-22,"v":0.5,"o":0},{"f":"NSwindow","s":-20,"v":0.15,"o":-1},{"f":"NSwindow","s":-18,"v":0.6,"o":0},{"f":"NSwindow","s":-16,"v":0.1,"o":0},
{"f":"NSwindow","s":-12,"v":0.15,"o":-1},{"f":"NSwindow","s":-12,"v":0.5,"o":0},{"f":"NSwindow","s":-12,"v":0.1,"o":1},
{"f":"NSwindow","s":-10,"v":0.1,"o":-2},{"f":"NSwindow","s":-10,"v":0.5,"o":-1},{"f":"NSwindow","s":-10,"v":0.15,"o":0},{"f":"NSwindow","s":-10,"v":0.5,"o":1},{"f":"NSwindow","s":-10,"v":0.9,"o":2},
{"f":"NSwindow","s":-8,"v":0.1,"o":-3},{"f":"NSwindow","s":-8,"v":0.15,"o":-2},{"f":"NSwindow","s":-8,"v":0.5,"o":-1},{"f":"NSwindow","s":-8,"v":0.1,"o":0},{"f":"NSwindow","s":-8,"v":0.5,"o":1},{"f":"NSwindow","s":-8,"v":0.6,"o":2},{"f":"NSwindow","s":-8,"v":0.9,"o":3},
{"f":"NSwindow","s":-6,"v":0.1,"o":-4},{"f":"NSwindow","s":-6,"v":0.5,"o":-3},{"f":"NSwindow","s":-6,"v":0.15,"o":-2},{"f":"NSwindow","s":-6,"v":0.5,"o":-1},{"f":"NSwindow","s":-6,"v":0.1,"o":0},{"f":"NSwindow","s":-6,"v":0.5,"o":1},{"f":"NSwindow","s":-6,"v":0.9,"o":2},{"f":"NSwindow","s":-6,"v":0.6,"o":3},{"f":"NSwindow","s":-6,"v":0.9,"o":4},
{"f":"NSwindow","s":-4,"v":0.5,"o":-5},{"f":"NSwindow","s":-4,"v":0.1,"o":-4},{"f":"NSwindow","s":-4,"v":0.5,"o":-3},{"f":"NSwindow","s":-4,"v":0.1,"o":-2},{"f":"NSwindow","s":-4,"v":0.5,"o":-1},{"f":"NSwindow","s":-4,"v":0.15,"o":0},{"f":"NSwindow","s":-4,"v":0.5,"o":1},{"f":"NSwindow","s":-4,"v":0.9,"o":2},{"f":"NSwindow","s":-4,"v":0.6,"o":3},{"f":"NSwindow","s":-4,"v":0.9,"o":4},{"f":"NSwindow","s":-4,"v":0.95,"o":5},
{"f":"NSwindow","s":-2,"v":0.5,"o":-5},{"f":"NSwindow","s":-2,"v":0.5,"o":-4},{"f":"NSwindow","s":-2,"v":0.1,"o":-3},{"f":"NSwindow","s":-2,"v":0.5,"o":-2},{"f":"NSwindow","s":-2,"v":0.15,"o":-1},{"f":"NSwindow","s":-2,"v":0.5,"o":0},{"f":"NSwindow","s":-2,"v":0.9,"o":1},{"f":"NSwindow","s":-2,"v":0.5,"o":2},{"f":"NSwindow","s":-2,"v":0.9,"o":3},{"f":"NSwindow","s":-2,"v":0.6,"o":4},{"f":"NSwindow","s":-2,"v":0.9,"o":5},
{"f":"NSwindow","s":0,"v":0.1,"o":-4},{"f":"NSwindow","s":0,"v":0.5,"o":-3},{"f":"NSwindow","s":0,"v":0.15,"o":-2},{"f":"NSwindow","s":0,"v":0.5,"o":-1},{"f":"NSwindow","s":0,"v":0.1,"o":0},{"f":"NSwindow","s":0,"v":0.6,"o":1},{"f":"NSwindow","s":0,"v":0.9,"o":2},{"f":"NSwindow","s":0,"v":0.5,"o":3},{"f":"NSwindow","s":0,"v":0.9,"o":4},
{"f":"NSwindow","s":2,"v":0.1,"o":-3},{"f":"NSwindow","s":2,"v":0.5,"o":-2},{"f":"NSwindow","s":2,"v":0.1,"o":-1},{"f":"NSwindow","s":2,"v":0.5,"o":0},{"f":"NSwindow","s":2,"v":0.9,"o":1},{"f":"NSwindow","s":2,"v":0.5,"o":2},{"f":"NSwindow","s":2,"v":0.9,"o":3},
{"f":"NSwindow","s":4,"v":0.15,"o":-1},{"f":"NSwindow","s":4,"v":0.5,"o":0},{"f":"NSwindow","s":4,"v":0.9,"o":1},
{"f":"NSwindow","s":6,"v":0.5,"o":0},{"f":"NSwindow","s":8,"v":0.9,"o":1},{"f":"NSwindow","s":10,"v":0.15,"o":0},{"f":"NSwindow","s":12,"v":0.9,"o":-1},{"f":"NSwindow","s":14,"v":0.5,"o":0},{"f":"NSwindow","s":17,"v":0.9,"o":0},{"f":"NSwindow","s":19,"v":0.15,"o":1},{"f":"NSwindow","s":21,"v":0.6,"o":0},{"f":"NSwindow","s":23,"v":0.9,"o":0},{"f":"NSwindow","s":26,"v":0.15,"o":0},{"f":"NSwindow","s":28,"v":0.5,"o":-1},{"f":"NSwindow","s":30,"v":0.9,"o":0},{"f":"NSwindow","s":33,"v":0.15,"o":0},{"f":"NSwindow","s":35,"v":0.15,"o":1},{"f":"NSwindow","s":38,"v":0.5,"o":0},{"f":"NSwindow","s":41,"v":0.1,"o":0},{"f":"NSwindow","s":44,"v":0.15,"o":0},{"f":"NSwindow","s":47,"v":0.1,"o":0},{"f":"NSwindow","s":53,"v":0.1,"o":0},{"f":"NSwindow","s":74,"v":0.1,"o":0},

{"f":"EDASymp","s":-39,"v":0.95,"o":0},{"f":"EDASymp","s":-36,"v":0.9,"o":0},
{"f":"EDASymp","s":-28,"v":0.15,"o":0},{"f":"EDASymp","s":-26,"v":0.5,"o":0},{"f":"EDASymp","s":-24,"v":0.1,"o":0},{"f":"EDASymp","s":-22,"v":0.9,"o":0},{"f":"EDASymp","s":-20,"v":0.15,"o":1},{"f":"EDASymp","s":-18,"v":0.6,"o":0},{"f":"EDASymp","s":-16,"v":0.9,"o":-1},{"f":"EDASymp","s":-14,"v":0.15,"o":0},{"f":"EDASymp","s":-12,"v":0.5,"o":0},{"f":"EDASymp","s":-10,"v":0.9,"o":0},{"f":"EDASymp","s":-8,"v":0.15,"o":1},
{"f":"EDASymp","s":-6,"v":0.9,"o":-1},{"f":"EDASymp","s":-6,"v":0.5,"o":0},{"f":"EDASymp","s":-6,"v":0.15,"o":1},
{"f":"EDASymp","s":-4,"v":0.9,"o":-2},{"f":"EDASymp","s":-4,"v":0.6,"o":-1},{"f":"EDASymp","s":-4,"v":0.15,"o":0},{"f":"EDASymp","s":-4,"v":0.9,"o":1},{"f":"EDASymp","s":-4,"v":0.6,"o":2},
{"f":"EDASymp","s":-2,"v":0.9,"o":-5},{"f":"EDASymp","s":-2,"v":0.95,"o":-4},{"f":"EDASymp","s":-2,"v":0.9,"o":-3},{"f":"EDASymp","s":-2,"v":0.6,"o":-2},{"f":"EDASymp","s":-2,"v":0.9,"o":-1},{"f":"EDASymp","s":-2,"v":0.15,"o":0},{"f":"EDASymp","s":-2,"v":0.6,"o":1},{"f":"EDASymp","s":-2,"v":0.9,"o":2},{"f":"EDASymp","s":-2,"v":0.5,"o":3},{"f":"EDASymp","s":-2,"v":0.9,"o":4},{"f":"EDASymp","s":-2,"v":0.6,"o":5},
{"f":"EDASymp","s":0,"v":0.95,"o":-5},{"f":"EDASymp","s":0,"v":0.9,"o":-4},{"f":"EDASymp","s":0,"v":0.6,"o":-3},{"f":"EDASymp","s":0,"v":0.9,"o":-2},{"f":"EDASymp","s":0,"v":0.15,"o":-1},{"f":"EDASymp","s":0,"v":0.6,"o":0},{"f":"EDASymp","s":0,"v":0.9,"o":1},{"f":"EDASymp","s":0,"v":0.6,"o":2},{"f":"EDASymp","s":0,"v":0.9,"o":3},{"f":"EDASymp","s":0,"v":0.6,"o":4},{"f":"EDASymp","s":0,"v":0.9,"o":5},
{"f":"EDASymp","s":2,"v":0.9,"o":-3},{"f":"EDASymp","s":2,"v":0.5,"o":-2},{"f":"EDASymp","s":2,"v":0.9,"o":-1},{"f":"EDASymp","s":2,"v":0.15,"o":0},{"f":"EDASymp","s":2,"v":0.9,"o":1},{"f":"EDASymp","s":2,"v":0.6,"o":2},{"f":"EDASymp","s":2,"v":0.9,"o":3},
{"f":"EDASymp","s":4,"v":0.9,"o":-1},{"f":"EDASymp","s":4,"v":0.15,"o":0},{"f":"EDASymp","s":4,"v":0.6,"o":1},
{"f":"EDASymp","s":6,"v":0.9,"o":0},{"f":"EDASymp","s":8,"v":0.15,"o":0},{"f":"EDASymp","s":10,"v":0.9,"o":1},{"f":"EDASymp","s":12,"v":0.5,"o":0},{"f":"EDASymp","s":14,"v":0.15,"o":-1},{"f":"EDASymp","s":16,"v":0.9,"o":0},{"f":"EDASymp","s":18,"v":0.15,"o":0},{"f":"EDASymp","s":20,"v":0.6,"o":0},{"f":"EDASymp","s":22,"v":0.9,"o":0},{"f":"EDASymp","s":25,"v":0.15,"o":0},{"f":"EDASymp","s":28,"v":0.1,"o":0},{"f":"EDASymp","s":31,"v":0.15,"o":0},{"f":"EDASymp","s":41,"v":0.95,"o":0},{"f":"EDASymp","s":48,"v":0.95,"o":0},

{"f":"tvsymp","s":-24,"v":0.1,"o":0},{"f":"tvsymp","s":-22,"v":0.1,"o":0},{"f":"tvsymp","s":-20,"v":0.15,"o":0},{"f":"tvsymp","s":-18,"v":0.1,"o":1},{"f":"tvsymp","s":-16,"v":0.1,"o":0},{"f":"tvsymp","s":-14,"v":0.15,"o":-1},{"f":"tvsymp","s":-12,"v":0.1,"o":0},{"f":"tvsymp","s":-10,"v":0.1,"o":1},{"f":"tvsymp","s":-8,"v":0.15,"o":0},
{"f":"tvsymp","s":-6,"v":0.1,"o":-1},{"f":"tvsymp","s":-6,"v":0.1,"o":0},{"f":"tvsymp","s":-6,"v":0.1,"o":1},
{"f":"tvsymp","s":-4,"v":0.1,"o":-3},{"f":"tvsymp","s":-4,"v":0.1,"o":-2},{"f":"tvsymp","s":-4,"v":0.15,"o":-1},{"f":"tvsymp","s":-4,"v":0.1,"o":0},{"f":"tvsymp","s":-4,"v":0.1,"o":1},{"f":"tvsymp","s":-4,"v":0.1,"o":2},{"f":"tvsymp","s":-4,"v":0.1,"o":3},
{"f":"tvsymp","s":-2,"v":0.1,"o":-4},{"f":"tvsymp","s":-2,"v":0.1,"o":-3},{"f":"tvsymp","s":-2,"v":0.1,"o":-2},{"f":"tvsymp","s":-2,"v":0.1,"o":-1},{"f":"tvsymp","s":-2,"v":0.5,"o":0},{"f":"tvsymp","s":-2,"v":0.1,"o":1},{"f":"tvsymp","s":-2,"v":0.1,"o":2},{"f":"tvsymp","s":-2,"v":0.1,"o":3},{"f":"tvsymp","s":-2,"v":0.1,"o":4},
{"f":"tvsymp","s":0,"v":0.1,"o":-4},{"f":"tvsymp","s":0,"v":0.1,"o":-3},{"f":"tvsymp","s":0,"v":0.1,"o":-2},{"f":"tvsymp","s":0,"v":0.15,"o":-1},{"f":"tvsymp","s":0,"v":0.1,"o":0},{"f":"tvsymp","s":0,"v":0.1,"o":1},{"f":"tvsymp","s":0,"v":0.1,"o":2},{"f":"tvsymp","s":0,"v":0.1,"o":3},{"f":"tvsymp","s":0,"v":0.1,"o":4},
{"f":"tvsymp","s":2,"v":0.1,"o":-2},{"f":"tvsymp","s":2,"v":0.1,"o":-1},{"f":"tvsymp","s":2,"v":0.6,"o":0},{"f":"tvsymp","s":2,"v":0.1,"o":1},{"f":"tvsymp","s":2,"v":0.1,"o":2},
{"f":"tvsymp","s":4,"v":0.6,"o":0},{"f":"tvsymp","s":6,"v":0.9,"o":0},{"f":"tvsymp","s":6,"v":0.5,"o":1},{"f":"tvsymp","s":8,"v":0.9,"o":-1},{"f":"tvsymp","s":9,"v":0.9,"o":0},{"f":"tvsymp","s":10,"v":0.6,"o":1},{"f":"tvsymp","s":11,"v":0.95,"o":-1},{"f":"tvsymp","s":12,"v":0.9,"o":0},{"f":"tvsymp","s":13,"v":0.6,"o":1},{"f":"tvsymp","s":14,"v":0.9,"o":-1},{"f":"tvsymp","s":15,"v":0.9,"o":0},{"f":"tvsymp","s":17,"v":0.6,"o":0},{"f":"tvsymp","s":19,"v":0.9,"o":0},{"f":"tvsymp","s":21,"v":0.15,"o":0},{"f":"tvsymp","s":23,"v":0.9,"o":0},{"f":"tvsymp","s":25,"v":0.95,"o":0},{"f":"tvsymp","s":27,"v":0.9,"o":0},{"f":"tvsymp","s":28,"v":0.95,"o":1},{"f":"tvsymp","s":39,"v":0.5,"o":0},

{"f":"hrv_hfnu","s":-53,"v":0.1,"o":0},{"f":"hrv_hfnu","s":-37,"v":0.1,"o":0},{"f":"hrv_hfnu","s":-28,"v":0.1,"o":0},{"f":"hrv_hfnu","s":-26,"v":0.15,"o":0},{"f":"hrv_hfnu","s":-16,"v":0.1,"o":0},{"f":"hrv_hfnu","s":-12,"v":0.5,"o":0},{"f":"hrv_hfnu","s":-9,"v":0.15,"o":0},
{"f":"hrv_hfnu","s":-6,"v":0.9,"o":-1},{"f":"hrv_hfnu","s":-6,"v":0.15,"o":0},{"f":"hrv_hfnu","s":-6,"v":0.6,"o":1},
{"f":"hrv_hfnu","s":-4,"v":0.6,"o":-2},{"f":"hrv_hfnu","s":-4,"v":0.9,"o":-1},{"f":"hrv_hfnu","s":-4,"v":0.5,"o":0},{"f":"hrv_hfnu","s":-4,"v":0.15,"o":1},{"f":"hrv_hfnu","s":-4,"v":0.9,"o":2},
{"f":"hrv_hfnu","s":-2,"v":0.9,"o":-5},{"f":"hrv_hfnu","s":-2,"v":0.6,"o":-4},{"f":"hrv_hfnu","s":-2,"v":0.9,"o":-3},{"f":"hrv_hfnu","s":-2,"v":0.5,"o":-2},{"f":"hrv_hfnu","s":-2,"v":0.9,"o":-1},{"f":"hrv_hfnu","s":-2,"v":0.6,"o":0},{"f":"hrv_hfnu","s":-2,"v":0.9,"o":1},{"f":"hrv_hfnu","s":-2,"v":0.5,"o":2},{"f":"hrv_hfnu","s":-2,"v":0.6,"o":3},{"f":"hrv_hfnu","s":-2,"v":0.9,"o":4},{"f":"hrv_hfnu","s":-2,"v":0.6,"o":5},
{"f":"hrv_hfnu","s":0,"v":0.6,"o":-5},{"f":"hrv_hfnu","s":0,"v":0.9,"o":-4},{"f":"hrv_hfnu","s":0,"v":0.5,"o":-3},{"f":"hrv_hfnu","s":0,"v":0.9,"o":-2},{"f":"hrv_hfnu","s":0,"v":0.6,"o":-1},{"f":"hrv_hfnu","s":0,"v":0.9,"o":0},{"f":"hrv_hfnu","s":0,"v":0.5,"o":1},{"f":"hrv_hfnu","s":0,"v":0.9,"o":2},{"f":"hrv_hfnu","s":0,"v":0.9,"o":3},{"f":"hrv_hfnu","s":0,"v":0.6,"o":4},{"f":"hrv_hfnu","s":0,"v":0.9,"o":5},
{"f":"hrv_hfnu","s":2,"v":0.9,"o":-3},{"f":"hrv_hfnu","s":2,"v":0.6,"o":-2},{"f":"hrv_hfnu","s":2,"v":0.9,"o":-1},{"f":"hrv_hfnu","s":2,"v":0.5,"o":0},{"f":"hrv_hfnu","s":2,"v":0.9,"o":1},{"f":"hrv_hfnu","s":2,"v":0.6,"o":2},{"f":"hrv_hfnu","s":2,"v":0.9,"o":3},
{"f":"hrv_hfnu","s":4,"v":0.6,"o":-1},{"f":"hrv_hfnu","s":4,"v":0.9,"o":0},{"f":"hrv_hfnu","s":4,"v":0.6,"o":1},
{"f":"hrv_hfnu","s":6,"v":0.9,"o":0},{"f":"hrv_hfnu","s":8,"v":0.6,"o":0},{"f":"hrv_hfnu","s":10,"v":0.9,"o":1},{"f":"hrv_hfnu","s":12,"v":0.15,"o":0},{"f":"hrv_hfnu","s":14,"v":0.9,"o":-1},{"f":"hrv_hfnu","s":16,"v":0.6,"o":0},{"f":"hrv_hfnu","s":18,"v":0.9,"o":0},{"f":"hrv_hfnu","s":20,"v":0.15,"o":0},{"f":"hrv_hfnu","s":22,"v":0.9,"o":0},{"f":"hrv_hfnu","s":25,"v":0.6,"o":0},{"f":"hrv_hfnu","s":29,"v":0.1,"o":0},{"f":"hrv_hfnu","s":44,"v":0.1,"o":0},{"f":"hrv_hfnu","s":49,"v":0.1,"o":0},{"f":"hrv_hfnu","s":53,"v":0.15,"o":0},{"f":"hrv_hfnu","s":67,"v":0.1,"o":0},

{"f":"hrv_lfnu","s":-53,"v":0.95,"o":0},{"f":"hrv_lfnu","s":-39,"v":0.95,"o":0},{"f":"hrv_lfnu","s":-29,"v":0.9,"o":0},{"f":"hrv_lfnu","s":-27,"v":0.95,"o":0},{"f":"hrv_lfnu","s":-16,"v":0.9,"o":0},{"f":"hrv_lfnu","s":-12,"v":0.6,"o":0},{"f":"hrv_lfnu","s":-9,"v":0.9,"o":0},
{"f":"hrv_lfnu","s":-6,"v":0.5,"o":-1},{"f":"hrv_lfnu","s":-6,"v":0.9,"o":0},{"f":"hrv_lfnu","s":-6,"v":0.15,"o":1},
{"f":"hrv_lfnu","s":-4,"v":0.9,"o":-2},{"f":"hrv_lfnu","s":-4,"v":0.5,"o":-1},{"f":"hrv_lfnu","s":-4,"v":0.6,"o":0},{"f":"hrv_lfnu","s":-4,"v":0.9,"o":1},{"f":"hrv_lfnu","s":-4,"v":0.15,"o":2},
{"f":"hrv_lfnu","s":-2,"v":0.5,"o":-5},{"f":"hrv_lfnu","s":-2,"v":0.9,"o":-4},{"f":"hrv_lfnu","s":-2,"v":0.5,"o":-3},{"f":"hrv_lfnu","s":-2,"v":0.6,"o":-2},{"f":"hrv_lfnu","s":-2,"v":0.15,"o":-1},{"f":"hrv_lfnu","s":-2,"v":0.5,"o":0},{"f":"hrv_lfnu","s":-2,"v":0.9,"o":1},{"f":"hrv_lfnu","s":-2,"v":0.5,"o":2},{"f":"hrv_lfnu","s":-2,"v":0.15,"o":3},{"f":"hrv_lfnu","s":-2,"v":0.5,"o":4},{"f":"hrv_lfnu","s":-2,"v":0.5,"o":5},
{"f":"hrv_lfnu","s":0,"v":0.9,"o":-5},{"f":"hrv_lfnu","s":0,"v":0.5,"o":-4},{"f":"hrv_lfnu","s":0,"v":0.6,"o":-3},{"f":"hrv_lfnu","s":0,"v":0.5,"o":-2},{"f":"hrv_lfnu","s":0,"v":0.9,"o":-1},{"f":"hrv_lfnu","s":0,"v":0.5,"o":0},{"f":"hrv_lfnu","s":0,"v":0.15,"o":1},{"f":"hrv_lfnu","s":0,"v":0.5,"o":2},{"f":"hrv_lfnu","s":0,"v":0.9,"o":3},{"f":"hrv_lfnu","s":0,"v":0.5,"o":4},{"f":"hrv_lfnu","s":0,"v":0.15,"o":5},
{"f":"hrv_lfnu","s":2,"v":0.5,"o":-3},{"f":"hrv_lfnu","s":2,"v":0.9,"o":-2},{"f":"hrv_lfnu","s":2,"v":0.5,"o":-1},{"f":"hrv_lfnu","s":2,"v":0.6,"o":0},{"f":"hrv_lfnu","s":2,"v":0.5,"o":1},{"f":"hrv_lfnu","s":2,"v":0.15,"o":2},{"f":"hrv_lfnu","s":2,"v":0.5,"o":3},
{"f":"hrv_lfnu","s":4,"v":0.5,"o":-1},{"f":"hrv_lfnu","s":4,"v":0.9,"o":0},{"f":"hrv_lfnu","s":4,"v":0.5,"o":1},
{"f":"hrv_lfnu","s":6,"v":0.9,"o":0},{"f":"hrv_lfnu","s":8,"v":0.6,"o":0},{"f":"hrv_lfnu","s":10,"v":0.15,"o":1},{"f":"hrv_lfnu","s":12,"v":0.9,"o":0},{"f":"hrv_lfnu","s":14,"v":0.6,"o":-1},{"f":"hrv_lfnu","s":16,"v":0.15,"o":0},{"f":"hrv_lfnu","s":18,"v":0.1,"o":0},{"f":"hrv_lfnu","s":20,"v":0.15,"o":1},{"f":"hrv_lfnu","s":22,"v":0.9,"o":0},{"f":"hrv_lfnu","s":25,"v":0.95,"o":0},{"f":"hrv_lfnu","s":28,"v":0.9,"o":0},{"f":"hrv_lfnu","s":45,"v":0.95,"o":0},{"f":"hrv_lfnu","s":51,"v":0.9,"o":0},{"f":"hrv_lfnu","s":53,"v":0.95,"o":0},{"f":"hrv_lfnu","s":69,"v":0.95,"o":0},

{"f":"mtvsymp","s":-6,"v":0.1,"o":-1},{"f":"mtvsymp","s":-6,"v":0.1,"o":0},{"f":"mtvsymp","s":-6,"v":0.1,"o":1},
{"f":"mtvsymp","s":-4,"v":0.1,"o":-2},{"f":"mtvsymp","s":-4,"v":0.1,"o":-1},{"f":"mtvsymp","s":-4,"v":0.1,"o":0},{"f":"mtvsymp","s":-4,"v":0.1,"o":1},{"f":"mtvsymp","s":-4,"v":0.1,"o":2},
{"f":"mtvsymp","s":-2,"v":0.1,"o":-4},{"f":"mtvsymp","s":-2,"v":0.1,"o":-3},{"f":"mtvsymp","s":-2,"v":0.1,"o":-2},{"f":"mtvsymp","s":-2,"v":0.1,"o":-1},{"f":"mtvsymp","s":-2,"v":0.1,"o":0},{"f":"mtvsymp","s":-2,"v":0.1,"o":1},{"f":"mtvsymp","s":-2,"v":0.1,"o":2},{"f":"mtvsymp","s":-2,"v":0.1,"o":3},{"f":"mtvsymp","s":-2,"v":0.1,"o":4},
{"f":"mtvsymp","s":0,"v":0.1,"o":-4},{"f":"mtvsymp","s":0,"v":0.1,"o":-3},{"f":"mtvsymp","s":0,"v":0.1,"o":-2},{"f":"mtvsymp","s":0,"v":0.1,"o":-1},{"f":"mtvsymp","s":0,"v":0.1,"o":0},{"f":"mtvsymp","s":0,"v":0.1,"o":1},{"f":"mtvsymp","s":0,"v":0.1,"o":2},{"f":"mtvsymp","s":0,"v":0.1,"o":3},{"f":"mtvsymp","s":0,"v":0.1,"o":4},
{"f":"mtvsymp","s":1.5,"v":0.1,"o":-2},{"f":"mtvsymp","s":1.5,"v":0.1,"o":-1},{"f":"mtvsymp","s":1.5,"v":0.1,"o":1},{"f":"mtvsymp","s":1.5,"v":0.1,"o":2},
{"f":"mtvsymp","s":3,"v":0.95,"o":0},{"f":"mtvsymp","s":5,"v":0.9,"o":0},{"f":"mtvsymp","s":5,"v":0.95,"o":-1},{"f":"mtvsymp","s":7,"v":0.9,"o":0},{"f":"mtvsymp","s":9,"v":0.95,"o":0},{"f":"mtvsymp","s":9,"v":0.9,"o":1},{"f":"mtvsymp","s":11,"v":0.95,"o":0},{"f":"mtvsymp","s":13,"v":0.9,"o":0},{"f":"mtvsymp","s":15,"v":0.95,"o":0},{"f":"mtvsymp","s":17,"v":0.9,"o":0},{"f":"mtvsymp","s":18,"v":0.95,"o":1},

{"f":"dpheda","s":-11,"v":0.95,"o":0},
{"f":"dpheda","s":-8,"v":0.5,"o":0},
{"f":"dpheda","s":-6,"v":0.5,"o":-1},{"f":"dpheda","s":-6,"v":0.5,"o":0},{"f":"dpheda","s":-6,"v":0.5,"o":1},
{"f":"dpheda","s":-4,"v":0.5,"o":-1},{"f":"dpheda","s":-4,"v":0.5,"o":0},{"f":"dpheda","s":-4,"v":0.5,"o":1},
{"f":"dpheda","s":-2,"v":0.5,"o":-3},{"f":"dpheda","s":-2,"v":0.5,"o":-2},{"f":"dpheda","s":-2,"v":0.5,"o":-1},{"f":"dpheda","s":-2,"v":0.5,"o":0},{"f":"dpheda","s":-2,"v":0.5,"o":1},{"f":"dpheda","s":-2,"v":0.5,"o":2},{"f":"dpheda","s":-2,"v":0.5,"o":3},
{"f":"dpheda","s":0,"v":0.5,"o":-5},{"f":"dpheda","s":0,"v":0.5,"o":-4},{"f":"dpheda","s":0,"v":0.5,"o":-3},{"f":"dpheda","s":0,"v":0.5,"o":-2},{"f":"dpheda","s":0,"v":0.5,"o":-1},{"f":"dpheda","s":0,"v":0.5,"o":0},{"f":"dpheda","s":0,"v":0.5,"o":1},{"f":"dpheda","s":0,"v":0.5,"o":2},{"f":"dpheda","s":0,"v":0.5,"o":3},{"f":"dpheda","s":0,"v":0.5,"o":4},{"f":"dpheda","s":0,"v":0.5,"o":5},
{"f":"dpheda","s":2,"v":0.5,"o":-3},{"f":"dpheda","s":2,"v":0.5,"o":-2},{"f":"dpheda","s":2,"v":0.5,"o":-1},{"f":"dpheda","s":2,"v":0.5,"o":0},{"f":"dpheda","s":2,"v":0.5,"o":1},{"f":"dpheda","s":2,"v":0.5,"o":2},{"f":"dpheda","s":2,"v":0.5,"o":3},
{"f":"dpheda","s":4,"v":0.5,"o":-1},{"f":"dpheda","s":4,"v":0.5,"o":0},{"f":"dpheda","s":4,"v":0.5,"o":1},
{"f":"dpheda","s":6,"v":0.5,"o":0}
]
},
"hconcat": [
{"vconcat": [
  {"width": 200, "height": 86, "data": {"values": []}, "mark": "point", "view": {"stroke": null}},
  {"width": 253, "height": 192,
   "data": {"name": "scatter"},
   "title": {"text": "Pressure", "anchor": "start", "frame": "bounds", "fontSize": 7.5, "fontWeight": "normal", "color": "#333", "offset": 3},
   "view": {"stroke": "#666", "strokeWidth": 1},
   "mark": {"type": "circle", "size": 30, "color": "#3574ad", "opacity": 1},
   "encoding": {
     "x": {"field": "t", "type": "quantitative", "scale": {"domain": [449, 845], "nice": false, "zero": false},
       "axis": {"title": "True Values", "values": [450,500,550,600,650,700,750,800], "domain": false, "tickSize": 3, "tickColor": "#555", "labelFontSize": 7.5, "titleFontSize": 7.5, "titleFontWeight": "normal", "labelColor": "#333", "titleColor": "#333", "labelPadding": 1, "titlePadding": 2}},
     "y": {"field": "p", "type": "quantitative", "scale": {"domain": [452, 851], "nice": false, "zero": false},
       "axis": {"title": "Predictions", "values": [500,550,600,650,700,750,800], "domain": false, "tickSize": 3, "tickColor": "#555", "labelFontSize": 7.5, "titleFontSize": 7.5, "titleFontWeight": "normal", "labelColor": "#333", "titleColor": "#333", "labelPadding": 1, "titlePadding": 3}}
   }
  }
 ], "spacing": 20},
{"width": 327, "height": 302,
 "layer": [
  {"data": {"name": "feat"},
   "mark": {"type": "rule", "color": "#cccccc", "strokeWidth": 1, "strokeDash": [1, 4]},
   "encoding": {"y": {"field": "f", "type": "nominal", "bandPosition": 0.5,
      "scale": {"type": "band", "domain": ["Tonic_mean","hrv_hf","hrv_lf","NSwindow","EDASymp","tvsymp","hrv_hfnu","hrv_lfnu","mtvsymp","dpheda"], "paddingInner": 0, "paddingOuter": 0.5},
      "axis": {"title": null, "domain": false, "ticks": false, "labelFontSize": 11.5, "labelPadding": 20, "labelColor": "#333"}}}},
  {"data": {"values": [{}]},
   "mark": {"type": "rule", "color": "#999999", "strokeWidth": 1},
   "encoding": {"x": {"datum": 0}}},
  {"data": {"name": "shap"},
   "mark": {"type": "circle", "size": 14, "opacity": 1},
   "encoding": {
     "x": {"field": "s", "type": "quantitative", "scale": {"domain": [-120, 215], "nice": false, "zero": false},
       "axis": {"title": "SHAP value (impact on model output)", "values": [-100,-50,0,50,100,150,200], "labelExpr": "replace(datum.label, '-', '\u2212')", "domainColor": "#888", "tickColor": "#888", "tickSize": 3.5, "labelFontSize": 10.5, "titleFontSize": 11.5, "titleFontWeight": "normal", "labelColor": "#333", "titleColor": "#333", "labelPadding": 2, "titlePadding": 3}},
     "y": {"field": "f", "type": "nominal"},
     "yOffset": {"field": "o", "type": "quantitative", "scale": {"domain": [-6, 6], "range": [0, 27.45], "nice": false, "zero": false}},
     "color": {"field": "v", "type": "quantitative",
       "scale": {"domain": [0, 0.5, 1], "range": ["#2d86f2", "#7b30d4", "#f0245c"], "interpolate": "rgb"},
       "legend": {"type": "gradient", "direction": "vertical", "gradientLength": 301, "gradientThickness": 3, "gradientStrokeWidth": 0, "values": [0, 1], "labelExpr": "datum.value == 1 ? 'High' : 'Low'", "labelFontSize": 9, "labelColor": "#333", "labelOffset": 2, "title": "Feature value", "titleOrient": "right", "titleAngle": 270, "titleAnchor": "middle", "titleFontSize": 10.5, "titleFontWeight": "normal", "titleColor": "#333", "titlePadding": 0, "offset": 17, "padding": 0}}
   }}
 ]}
],
"spacing": 23
}
